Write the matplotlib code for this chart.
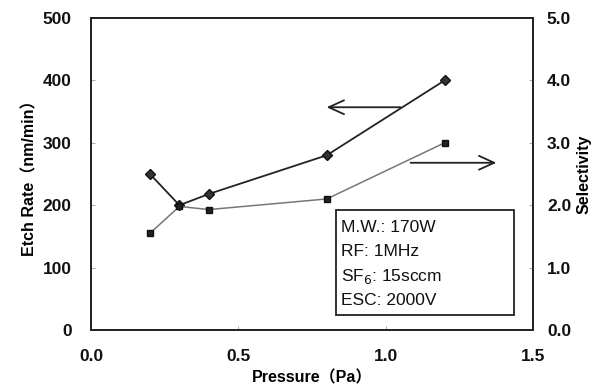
import matplotlib
matplotlib.use("Agg")
import matplotlib.pyplot as plt
from matplotlib.patches import Rectangle

pressure = [0.2, 0.3, 0.4, 0.8, 1.2]
etch_rate = [250, 200, 218, 280, 400]
selectivity = [1.55, 1.98, 1.93, 2.1, 3.0]

x_ticks = [0.0, 0.5, 1.0, 1.5]
x_tick_labels = ["0.0", "0.5", "1.0", "1.5"]
left_ticks = [0, 100, 200, 300, 400, 500]
right_ticks = [0.0, 1.0, 2.0, 3.0, 4.0, 5.0]
right_tick_labels = ["0.0", "1.0", "2.0", "3.0", "4.0", "5.0"]
conditions = ['M.W.: 170W', 'RF: 1MHz', 'SF$_6$: 15sccm', 'ESC: 2000V']

fam = ['Liberation Sans', 'Noto Sans CJK JP']
plt.rcParams['font.family'] = fam

fig = plt.figure(figsize=(6.01, 3.85), dpi=100)
ax = fig.add_axes([0.1514, 0.1429, 0.7355, 0.8103])
ax2 = ax.twinx()

ax.plot(pressure, etch_rate, color='#222222', lw=1.3, marker='D', ms=5,
        mfc='#333333', mec='#111111')
ax2.plot(pressure, selectivity, color='#777777', lw=1.1, marker='s', ms=5,
         mfc='#222222', mec='#111111')

ax.set_xlim(0, 1.5)
ax.set_ylim(0, 500)
ax2.set_ylim(0, 5.0)
ax.set_xticks(x_ticks)
ax.set_xticklabels(x_tick_labels)
ax.set_yticks(left_ticks)
ax2.set_yticks(right_ticks)
ax2.set_yticklabels(right_tick_labels)

for a in (ax, ax2):
    a.tick_params(direction='in', length=3, width=0.6, colors='#999999',
                  labelcolor='#111111', labelsize=12.5)
    for lab in a.get_xticklabels() + a.get_yticklabels():
        lab.set_fontweight('bold')
    for s in a.spines.values():
        s.set_linewidth(1.3)
        s.set_color('#222222')
ax.tick_params(axis='x', pad=14)
ax.tick_params(axis='y', pad=14)
ax2.tick_params(axis='y', pad=10)

ax.set_xlabel('Pressure（Pa）', fontsize=11.5, fontweight='bold', labelpad=4)
ax.set_ylabel('Etch Rate（nm/min）', fontsize=11.5, fontweight='bold', labelpad=4)
ax2.set_ylabel('Selectivity', fontsize=11.5, fontweight='bold', labelpad=4)

# arrows
ap = dict(arrowstyle='->,head_length=1.1,head_width=0.5', lw=1.3, color='#222222')
ax.annotate('', xy=(0.79, 357), xytext=(1.06, 357), arrowprops=ap)
ax2.annotate('', xy=(1.385, 2.68), xytext=(1.075, 2.68), arrowprops=ap)

# condition box
ax.add_patch(Rectangle((0.831, 24), 0.605, 168, transform=ax.transData,
                       fc='white', ec='#222222', lw=1.3, zorder=3))
for i, t in enumerate(conditions):
    ax.text(0.85, 165 - i * 39.5, t, fontsize=12.5, va='center', ha='left',
            color='#111111', zorder=4)

fig.savefig('out.png', dpi=100)
